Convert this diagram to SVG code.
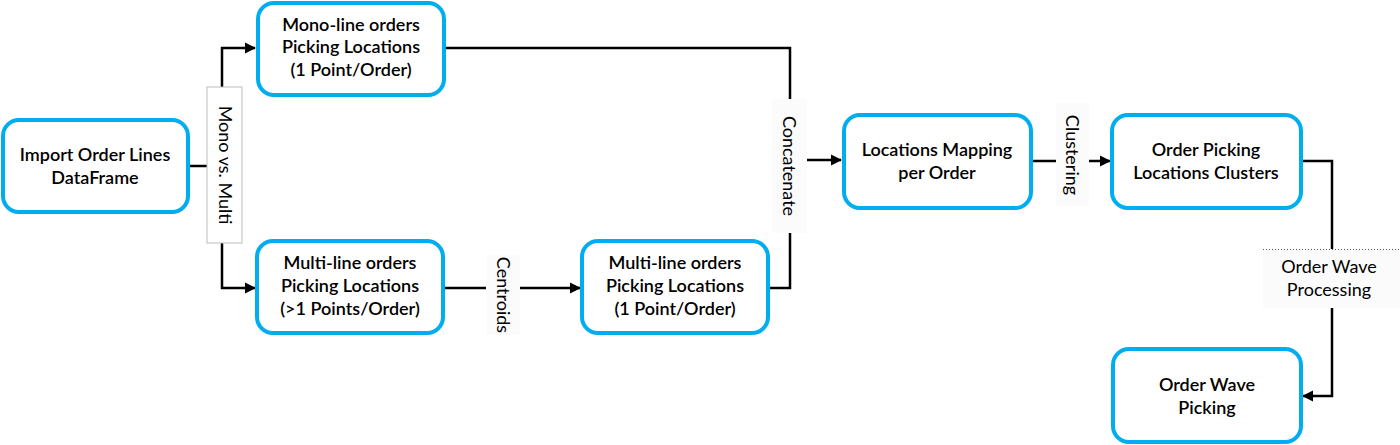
<svg xmlns="http://www.w3.org/2000/svg" width="1400" height="445" viewBox="0 0 1400 445">
<style>
.box{fill:#fff;stroke:#00aeef;stroke-width:4}
.t{font-family:Lato,"Liberation Sans",sans-serif;font-size:18px;fill:#000;text-anchor:middle}
.n{font-weight:600}
.c{fill:none;stroke:#000;stroke-width:2.5}
.lbl{fill:#fbfbfb;stroke:none}
</style>
<defs>
<marker id="ah" viewBox="0 0 10 10" refX="9" refY="5" markerWidth="4.5" markerHeight="4.5" orient="auto" markerUnits="strokeWidth">
<path d="M0,0 L10,5 L0,10 z" fill="#000"/>
</marker>
</defs>
<rect width="1400" height="445" fill="#fff"/>
<g id="connectors">
<path class="c" d="M188,166 H207"/>
<path class="c" d="M222,87 V48 H255" marker-end="url(#ah)"/>
<path class="c" d="M222,243 V288 H255" marker-end="url(#ah)"/>
<path class="c" d="M444,48 H790 V99"/>
<path class="c" d="M790,233 V288 H768"/>
<path class="c" d="M443,288 H486"/>
<path class="c" d="M520,288 H580" marker-end="url(#ah)"/>
<path class="c" d="M807,160 H841" marker-end="url(#ah)"/>
<path class="c" d="M1030,161 H1056"/>
<path class="c" d="M1089,161 H1110" marker-end="url(#ah)"/>
<path class="c" d="M1301,161 H1332 V249"/>
<path class="c" d="M1332,308 V396 H1303" marker-end="url(#ah)"/>
</g>
<g id="label-mono-multi">
<rect x="207" y="87" width="35" height="156" fill="#fff" stroke="#bdbdbd" stroke-width="1"/>
<text class="t" transform="translate(225,165) rotate(90)" dy="6">Mono vs. Multi</text>
</g>
<g id="label-centroids">
<rect class="lbl" x="487" y="255" width="33" height="80"/>
<text class="t" transform="translate(503,295) rotate(90)" dy="6">Centroids</text>
</g>
<g id="label-concatenate">
<rect class="lbl" x="772" y="99" width="35" height="134"/>
<text class="t" transform="translate(789,166) rotate(90)" dy="6">Concatenate</text>
</g>
<g id="label-clustering">
<rect class="lbl" x="1056" y="103" width="33" height="103"/>
<text class="t" transform="translate(1072,155) rotate(90)" dy="6">Clustering</text>
</g>
<g id="label-wave-processing">
<rect class="lbl" x="1263" y="249" width="137" height="59"/>
<line x1="1263" y1="249.5" x2="1400" y2="249.5" stroke="#555" stroke-width="1" stroke-dasharray="1,2"/>
<text class="t" x="1329" y="273">Order Wave</text>
<text class="t" x="1329" y="296">Processing</text>
</g>
<g id="node-import">
<rect class="box" x="3" y="120" width="185" height="92" rx="16"/>
<text class="t n" x="95" y="161">Import Order Lines</text>
<text class="t n" x="95" y="184">DataFrame</text>
</g>
<g id="node-mono">
<rect class="box" x="258" y="3" width="186" height="92" rx="16"/>
<text class="t n" x="351" y="31">Mono-line orders</text>
<text class="t n" x="351" y="53">Picking Locations</text>
<text class="t n" x="351" y="76">(1 Point/Order)</text>
</g>
<g id="node-multi">
<rect class="box" x="257" y="241" width="186" height="92" rx="16"/>
<text class="t n" x="350" y="269">Multi-line orders</text>
<text class="t n" x="350" y="292">Picking Locations</text>
<text class="t n" x="350" y="315">(&gt;1 Points/Order)</text>
</g>
<g id="node-multi-centroid">
<rect class="box" x="582" y="241" width="186" height="92" rx="16"/>
<text class="t n" x="675" y="269">Multi-line orders</text>
<text class="t n" x="675" y="292">Picking Locations</text>
<text class="t n" x="675" y="315">(1 Point/Order)</text>
</g>
<g id="node-mapping">
<rect class="box" x="844" y="115" width="187" height="93" rx="16"/>
<text class="t n" x="937" y="156">Locations Mapping</text>
<text class="t n" x="937" y="179">per Order</text>
</g>
<g id="node-clusters">
<rect class="box" x="1112" y="115" width="189" height="93" rx="16"/>
<text class="t n" x="1206" y="156">Order Picking</text>
<text class="t n" x="1206" y="179">Locations Clusters</text>
</g>
<g id="node-wave">
<rect class="box" x="1113" y="349" width="188" height="93" rx="16"/>
<text class="t n" x="1207" y="391">Order Wave</text>
<text class="t n" x="1207" y="414">Picking</text>
</g>
</svg>
